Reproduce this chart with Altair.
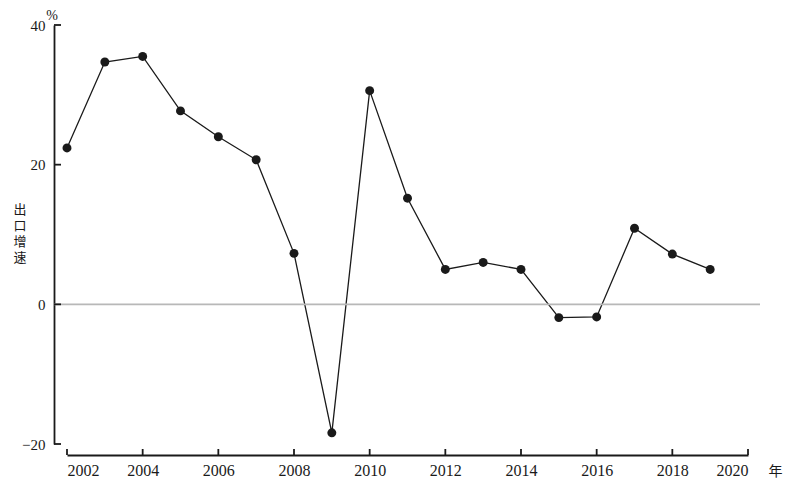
import altair as alt
import pandas as pd

years = list(range(2002, 2020))
growth = [22.4, 34.7, 35.5, 27.7, 24.0, 20.7, 7.3, -18.4, 30.6, 15.2,
          5.0, 6.0, 5.0, -1.9, -1.8, 10.9, 7.2, 5.0]
x_ticks = [2002, 2004, 2006, 2008, 2010, 2012, 2014, 2016, 2018, 2020]
y_ticks = [-20, 0, 20, 40]
unit_label = "%"
y_title = "出\n口\n增\n速"

SERIF = "Liberation Serif"
CJK = "Noto Sans CJK SC"
INK = "#1a1a1a"

df = pd.DataFrame({"year": years, "growth": growth})
xt = pd.DataFrame({"year": x_ticks})
yt = pd.DataFrame({"growth": y_ticks})
zero = pd.DataFrame({"growth": [0]})

xs = alt.Scale(domain=[2002, 2020], nice=False, zero=False)
ys = alt.Scale(domain=[-20, 40], nice=False, zero=False)

x_axis = alt.Axis(values=x_ticks, format="d", ticks=False, grid=False,
                  domainColor=INK, domainWidth=1.8, offset=11,
                  labelPadding=7, labelFont=SERIF, labelFontSize=16, labelColor=INK,
                  title="年", titleFont=CJK, titleFontSize=14, titleFontWeight="normal",
                  titleColor=INK, titleX=701, titleY=20, titleAlign="left",
                  titleBaseline="alphabetic")
y_axis = alt.Axis(values=y_ticks, ticks=False, grid=False, title=None,
                  domainColor=INK, domainWidth=1.8, offset=13,
                  labelPadding=9, labelFont=SERIF, labelFontSize=15, labelColor=INK)

X = alt.X("year:Q", scale=xs, axis=x_axis)
Y = alt.Y("growth:Q", scale=ys, axis=y_axis)

line = alt.Chart(df).mark_line(color=INK, strokeWidth=1.3).encode(x=X, y=Y)

zero_rule = alt.Chart(zero).mark_rule(color="#b8b8b8", strokeWidth=1.6).encode(
    y=Y, x=alt.value(-13), x2=alt.value(693))

y_tick_marks = alt.Chart(yt).mark_rule(color=INK, strokeWidth=1.8).encode(
    y=Y, x=alt.value(-13), x2=alt.value(-6))

x_tick_marks = alt.Chart(xt).mark_rule(color=INK, strokeWidth=1.8).encode(
    x=X, y=alt.value(424), y2=alt.value(430))

points = alt.Chart(df).mark_circle(color=INK, size=80, opacity=1).encode(x=X, y=Y)

unit_text = alt.Chart(pd.DataFrame({"t": [unit_label]})).mark_text(
    font=SERIF, fontSize=14, color=INK, align="center", baseline="middle"
).encode(text="t:N", x=alt.value(-15), y=alt.value(-9))

title_text = alt.Chart(pd.DataFrame({"t": [y_title]})).mark_text(
    font=CJK, fontSize=13, color=INK, align="center", baseline="top",
    lineBreak="\n", lineHeight=16
).encode(text="t:N", x=alt.value(-47), y=alt.value(179))

chart = alt.layer(line, zero_rule, points, y_tick_marks, x_tick_marks,
                  unit_text, title_text).properties(
    width=681, height=419,
    autosize=alt.AutoSizeParams(type="none"),
    padding={"left": 59, "top": 17, "right": 39, "bottom": 36},
).configure_view(stroke=None, clip=False)

chart.save("out.html", embed_options={"renderer": "svg", "actions": False})
